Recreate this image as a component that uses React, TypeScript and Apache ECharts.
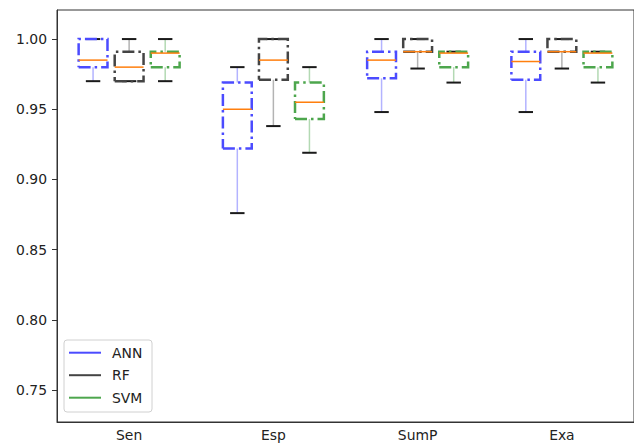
import React, { useEffect, useRef } from "react";
import * as echarts from "echarts";

const categories = ["Sen", "Esp", "SumP", "Exa"];
const models = ["ANN", "RF", "SVM"];
const yTicks = [0.75, 0.8, 0.85, 0.9, 0.95, 1.0];
// [min, q1, median, q3, max] per category
const annStats = [
  [0.97, 0.98, 0.985, 1.0, 1.0],
  [0.876, 0.922, 0.95, 0.969, 0.98],
  [0.948, 0.972, 0.985, 0.991, 1.0],
  [0.948, 0.971, 0.984, 0.991, 1.0],
];
const rfStats = [
  [0.97, 0.97, 0.98, 0.991, 1.0],
  [0.938, 0.971, 0.985, 1.0, 1.0],
  [0.979, 0.991, 0.991, 1.0, 1.0],
  [0.979, 0.991, 0.991, 1.0, 1.0],
];
const svmStats = [
  [0.97, 0.98, 0.99, 0.991, 1.0],
  [0.919, 0.943, 0.955, 0.969, 0.98],
  [0.969, 0.98, 0.99, 0.991, 0.991],
  [0.969, 0.98, 0.99, 0.991, 0.991],
];

const FONT = "DejaVu Sans";
const boxColors = ["#4b4bff", "#444444", "#4da64d"];
const whiskerColors = ["#b3b3ff", "#b3b3b3", "#b3d9b3"];
const offsets = [-0.25, 0, 0.25];

function makeRender(offset: number, boxColor: string, whiskerColor: string) {
  return (params: any, api: any) => {
    const ci = api.value(0);
    const band = api.size([1, 0])[0];
    const cx = api.coord([ci, api.value(3)])[0] + offset * band;
    const y = (i: number) => api.coord([ci, api.value(i)])[1];
    const hw = 0.1 * band;
    const cw = 0.05 * band;
    const capStyle = { stroke: "#1a1a1a", lineWidth: 2 };
    const wStyle = { stroke: whiskerColor, lineWidth: 1.5 };
    return {
      type: "group",
      children: [
        { type: "line", shape: { x1: cx, y1: y(1), x2: cx, y2: y(2) }, style: wStyle },
        { type: "line", shape: { x1: cx, y1: y(4), x2: cx, y2: y(5) }, style: wStyle },
        { type: "line", shape: { x1: cx - cw, y1: y(1), x2: cx + cw, y2: y(1) }, style: capStyle },
        { type: "line", shape: { x1: cx - cw, y1: y(5), x2: cx + cw, y2: y(5) }, style: capStyle },
        {
          type: "polyline",
          shape: {
            points: [
              [cx - hw, y(2)],
              [cx + hw, y(2)],
              [cx + hw, y(4)],
              [cx - hw, y(4)],
              [cx - hw, y(2)],
            ],
          },
          style: { stroke: boxColor, fill: "none", lineWidth: 2.5, lineDash: [12, 4, 2.5, 4] },
        },
        {
          type: "line",
          shape: { x1: cx - hw, y1: y(3), x2: cx + hw, y2: y(3) },
          style: { stroke: "#ff7f0e", lineWidth: 1.5 },
        },
      ],
    };
  };
}

export default function App() {
  const ref = useRef<HTMLDivElement>(null);
  useEffect(() => {
    document.body.style.margin = "0";
    const chart = echarts.init(ref.current!, null, { renderer: "svg" });
    const allStats = [annStats, rfStats, svmStats];
    const series = models.map((m, k) => ({
      name: m,
      type: "custom",
      renderItem: makeRender(offsets[k], boxColors[k], whiskerColors[k]),
      encode: { x: 0, y: [1, 2, 3, 4, 5] },
      data: allStats[k].map((s, i) => [i, ...s]),
    }));
    const legendRows = models.map((m, k) => {
      const yy = 352.7 + k * 22.5;
      return [
        {
          type: "line",
          shape: { x1: 69, y1: yy, x2: 101, y2: yy },
          style: { stroke: boxColors[k], lineWidth: 2 },
          z: 101,
        },
        {
          type: "text",
          x: 112,
          y: yy,
          style: { text: m, fill: "#222", font: `13.9px "${FONT}"`, textVerticalAlign: "middle" },
          z: 101,
        },
      ];
    }).flat();
    chart.setOption({
      animation: false,
      grid: {
        left: 57,
        top: 10,
        width: 588,
        height: 412,
        show: true,
        borderColor: "#333",
        borderWidth: 1,
      },
      xAxis: {
        type: "category",
        data: categories,
        axisLine: { lineStyle: { color: "#333", width: 1 } },
        axisTick: { alignWithLabel: true, length: 5, lineStyle: { color: "#333" } },
        axisLabel: { color: "#222", fontSize: 13.9, fontFamily: FONT, margin: 6 },
        splitLine: { show: false },
      },
      yAxis: {
        type: "value",
        min: 0.7272,
        max: 1.0207,
        axisLine: { show: true, lineStyle: { color: "#333", width: 1 } },
        axisTick: { show: true, length: 5, customValues: yTicks, lineStyle: { color: "#333" } },
        axisLabel: {
          customValues: yTicks,
          color: "#222",
          fontSize: 13.9,
          fontFamily: FONT,
          margin: 10,
          formatter: (v: number) => v.toFixed(2),
        },
        splitLine: { show: false },
      },
      series,
      graphic: [
        {
          type: "rect",
          shape: { x: 64, y: 340, width: 88, height: 72, r: 3 },
          style: { fill: "rgba(255,255,255,0.8)", stroke: "#d0d0d0", lineWidth: 1 },
          z: 100,
        },
        ...legendRows,
      ],
    });
    return () => chart.dispose();
  }, []);
  return (
    <div
      ref={ref}
      style={{ position: "absolute", left: 0, top: 0, width: 634, height: 444, overflow: "hidden" }}
    />
  );
}
